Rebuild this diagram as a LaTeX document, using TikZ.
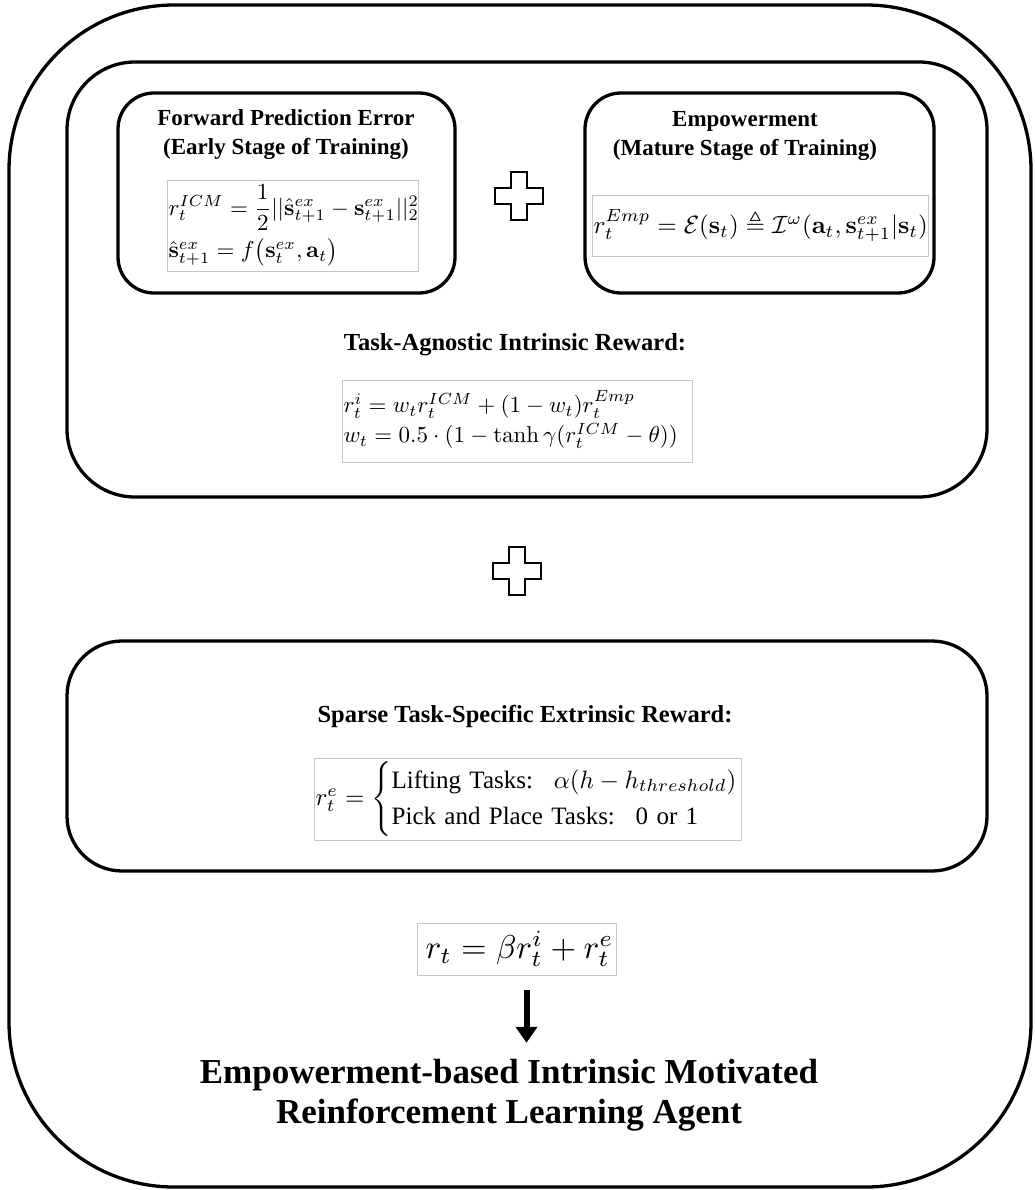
\documentclass[tikz,border=0pt]{standalone}
\usepackage{amsmath,amssymb}
\usepackage[no-math]{fontspec}
\setmainfont{Liberation Serif}
\usetikzlibrary{arrows.meta}

\tikzset{
  frame/.style={draw=black, line width=3.3pt},
  eqbox/.style={draw=black!22, line width=0.9pt, inner xsep=1.5pt, inner ysep=0pt, align=left},
  heading/.style={font=\bfseries\fontsize{23}{29}\selectfont, align=center, inner sep=0pt},
  bighead/.style={font=\bfseries\fontsize{24.5}{29}\selectfont, inner sep=0pt},
  plussign/.style={draw=black, line width=2.6pt, line join=miter},
  bigarrow/.style={line width=6pt, -{Triangle[width=21pt,length=16pt]}},
}

\begin{document}
\begin{tikzpicture}[x=1pt, y=-1pt]
\useasboundingbox (0,0) rectangle (1034,1190);

% outer frame and the two reward groups
\draw[frame, rounded corners=165pt] (9,5) rectangle (1031,1187);
\draw[frame, rounded corners=68pt] (67,62) rectangle (987,497);
\draw[frame, rounded corners=36pt] (118,93) rectangle (455,293);
\draw[frame, rounded corners=36pt] (585,93) rectangle (934,293);
\draw[frame, rounded corners=55pt] (67,641) rectangle (987,871);

% forward prediction error
\node[heading] (fwdtitle) at (286,135) {Forward Prediction Error\\(Early Stage of Training)};
\node[eqbox, text width=248pt, minimum height=91pt] (fwdeq) at (292.5,225.5)
  {\scalebox{2.3}{$\begin{array}{@{}l@{}}
     r_t^{ICM} = \dfrac{1}{2}||\hat{\mathbf{s}}^{ex}_{t+1} - \mathbf{s}^{ex}_{t+1}||_2^2\\[6.5pt]
     \hat{\mathbf{s}}^{ex}_{t+1} = f\big(\mathbf{s}^{ex}_t, \mathbf{a}_t\big)
   \end{array}$}};

% empowerment
\node[heading] (emptitle) at (745,136) {Empowerment\\(Mature Stage of Training)};
\node[eqbox, text width=333pt, minimum height=61pt] (empeq) at (760,225.5)
  {\scalebox{2.5}{$r_t^{Emp} = \mathcal{E}(\mathbf{s}_t) \triangleq \mathcal{I}^{\omega}(\mathbf{a}_t, \mathbf{s}^{ex}_{t+1}|\mathbf{s}_t)$}};

% plus signs
\draw[plussign] (519,196) ++(-8,-24) -- ++(16,0) -- ++(0,16) -- ++(16,0) -- ++(0,16) -- ++(-16,0)
  -- ++(0,16) -- ++(-16,0) -- ++(0,-16) -- ++(-16,0) -- ++(0,-16) -- ++(16,0) -- cycle;
\draw[plussign] (517,571) ++(-8,-24) -- ++(16,0) -- ++(0,16) -- ++(16,0) -- ++(0,16) -- ++(-16,0)
  -- ++(0,16) -- ++(-16,0) -- ++(0,-16) -- ++(-16,0) -- ++(0,-16) -- ++(16,0) -- cycle;

% task-agnostic intrinsic reward
\node[bighead] (intitle) at (515,345) {Task-Agnostic Intrinsic Reward:};
\node[eqbox, text width=347pt, minimum height=82pt] (ineq) at (517,421)
  {\scalebox{2.3}{$\begin{array}{@{}l@{}}
     r^i_t = w_t r_t^{ICM} + (1-w_t) r_t^{Emp}\\[1pt]
     w_t = 0.5\cdot(1-\tanh\gamma(r_t^{ICM}-\theta))
   \end{array}$}};

% sparse extrinsic reward
\node[bighead] (extitle) at (525,716) {Sparse Task-Specific Extrinsic Reward:};
\node[eqbox, text width=424pt, minimum height=82pt] (exeq) at (527.5,799)
  {\scalebox{2.5}{$r^e_t = \begin{cases}
     \text{Lifting Tasks:~ }\alpha(h - h_{threshold})\\
     \text{Pick and Place Tasks:~ 0 or 1}
   \end{cases}$}};

% total reward and agent
\node[eqbox, align=center, minimum width=199pt, minimum height=52pt] (total) at (516.5,949)
  {\hspace*{6pt}\scalebox{3.3}{$r_t = \beta r^i_t + r^e_t$}};
\node[font=\bfseries\fontsize{35}{40}\selectfont, align=center, inner sep=0pt] (agent) at (509,1095)
  {Empowerment-based Intrinsic Motivated\\Reinforcement Learning Agent};
\draw[bigarrow, shorten <=15pt, shorten >=16pt]
  ([xshift=10pt]total.south) -- ([xshift=10pt]total.south |- agent.north);
\end{tikzpicture}
\end{document}
